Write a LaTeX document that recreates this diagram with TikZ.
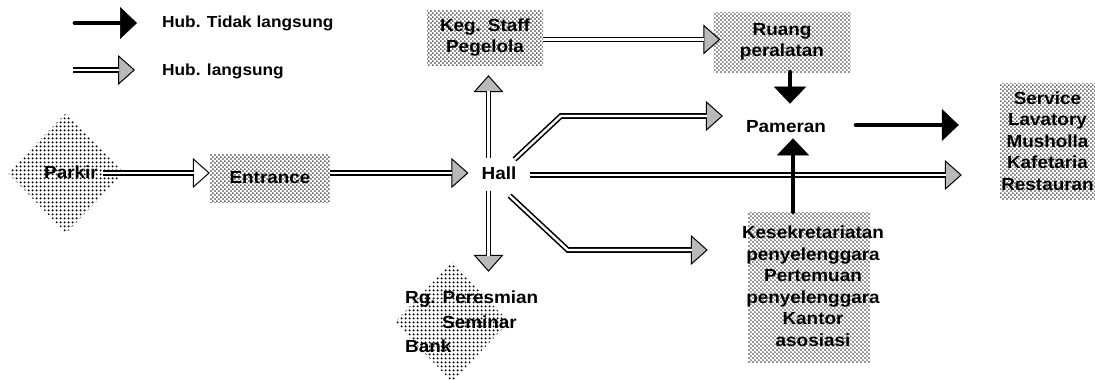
\documentclass[tikz,border=0pt]{standalone}
\usepackage{fontspec}
\setmainfont{Liberation Sans}[UprightFont={* Bold},FakeStretch=1.08]
\usetikzlibrary{arrows.meta,calc,patterns,shapes.geometric}

\pgfdeclarepatternformonly{boxdots}{\pgfpointorigin}{\pgfpoint{4.4pt}{4.4pt}}{\pgfpoint{4.4pt}{4.4pt}}{%
  \pgfpathcircle{\pgfpoint{1.1pt}{1.1pt}}{0.95pt}%
  \pgfpathcircle{\pgfpoint{3.3pt}{3.3pt}}{0.95pt}%
  \pgfusepath{fill}}
\pgfdeclarepatternformonly{diadots}{\pgfpointorigin}{\pgfpoint{3.6pt}{3.6pt}}{\pgfpoint{3.6pt}{3.6pt}}{%
  \pgfpathcircle{\pgfpoint{1.8pt}{1.8pt}}{1.15pt}\pgfusepath{fill}}

\newcommand\dblarr[2][gray!55]{%
  \draw[line width=1pt,-{Triangle[length=17pt,width=30pt,line width=1pt,fill=#1]}] #2;
  \draw[dshaft] #2;}

\begin{document}
\begin{tikzpicture}[x=1pt,y=-1pt,
  txt/.style={font=\fontsize{17.5}{21.5}\selectfont, inner sep=0pt, align=center},
  lgd/.style={font=\fontsize{16}{19}\selectfont, inner sep=0pt, anchor=west},
  dbox/.style={rectangle, pattern=boxdots, pattern color=black!85, inner sep=0pt},
  ddia/.style={diamond, pattern=diadots, pattern color=black, inner sep=0pt},
  dshaft/.style={line width=1.6pt, double=white, double distance=2.4pt, shorten >=16pt},
  blackarr/.style={line width=4.8pt, line cap=round, -{Triangle[length=17pt,width=32pt,line width=0.5pt]}}]
\useasboundingbox (0,0) rectangle (1095,380);

% legend
\coordinate (la1) at (75,23);
\coordinate (lb1) at (137,23);
\draw[blackarr] (la1) -- (lb1);
\node[lgd] (lt1) at (162,23) {Hub. Tidak langsung};
\coordinate (la2) at (73,70);
\coordinate (lb2) at (135,70);
\dblarr{(la2) -- (lb2)}
\node[lgd] (lt2) at (162,71) {Hub. langsung};

% nodes
\node[ddia, minimum width=116pt, minimum height=120pt] (parkirshape) at (66,173) {};
\node[txt] (parkir) at (71,172) {Parkir};
\node[dbox, txt, minimum width=120pt, minimum height=48pt] (entrance) at (270,178) {Entrance};
\node[txt] (hall) at (499,173) {Hall};
\node[dbox, txt, minimum width=116pt, minimum height=55pt] (keg) at (485,37.5) {Keg. Staff\\Pegelola};
\node[dbox, txt, minimum width=137pt, minimum height=60pt] (ruang) at (782,42) {Ruang\\peralatan};
\node[txt] (pameran) at (786,127) {Pameran};
\node[dbox, txt, minimum width=95pt, minimum height=116pt] (service) at (1047.5,141) {Service\\Lavatory\\Musholla\\Kafetaria\\Restauran};
\node[dbox, minimum width=122pt, minimum height=150pt] (kesbox) at (809,287) {};
\node[txt] (kes) at (813,286) {Kesekretariatan\\penyelenggara\\Pertemuan\\penyelenggara\\Kantor\\asosiasi};
\node[ddia, minimum width=114pt, minimum height=120pt] (rgshape) at (452,322) {};
\node[txt, anchor=west, align=left, font=\fontsize{17.5}{24.5}\selectfont] (rg) at (405,322) {Rg. Peresmian\\\hspace*{37pt}Seminar\\Bank};

% direct connections
\dblarr[white]{($(parkir.east)+(5,1)$) -- ($(parkir.east -| entrance.west)+(0,1)$)}
\dblarr{(entrance.east |- hall.west) -- ($(hall.west)+(-13,0)$)}
\coordinate (hup) at ($(hall.north west)+(7,-8)$);
\dblarr{(hup) -- ($(hup |- keg.south)+(0,10)$)}
\coordinate (hdn) at ($(hall.south west)+(7,11)$);
\dblarr{(hdn) -- ($(hdn |- rgshape.north)+(0,10)$)}
\dblarr{($(keg.east)+(0,2)$) -- ($(keg.east -| ruang.west)+(7,2)$)}
\coordinate (tb) at ($(pameran.west)+(-23,-11)$);
\dblarr{($(hall.north east)+(-2,-7)$) -- ($(tb)+(-162,0)$) -- (tb)}
\dblarr{($(hall.east)+(13,2)$) -- ($(hall.east -| service.west)+(-38,2)$)}
\coordinate (bb) at ($(kesbox.west)+(-40,-37)$);
\dblarr{($(hall.south east)+(-7,16)$) -- ($(bb)+(-140,0)$) -- (bb)}

% indirect connections
\draw[blackarr] ($(ruang.south)+(8,0)$) -- ($(pameran.north)+(4,-17)$);
\coordinate (kup) at ($(pameran.south)+(7,5)$);
\draw[blackarr] (kesbox.north -| kup) -- (kup);
\draw[blackarr] ($(pameran.east)+(30,-2)$) -- ($(pameran.east -| service.west)+(-41,-2)$);
\end{tikzpicture}
\end{document}
